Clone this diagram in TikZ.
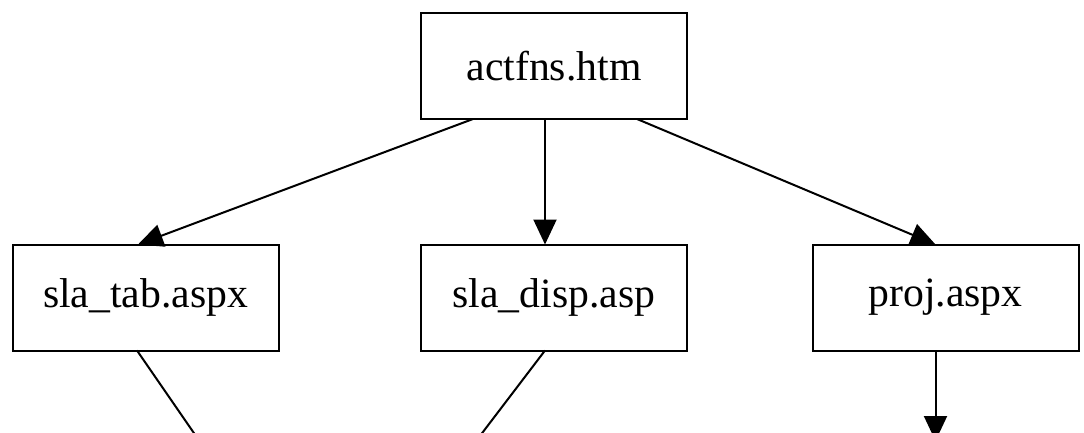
\documentclass[tikz,border=0pt]{standalone}
\usepackage{fontspec}
\setmainfont{Liberation Serif}
\usetikzlibrary{arrows.meta}
\begin{document}
\begin{tikzpicture}[x=1pt,y=1pt,
  pagebox/.style={draw=black, line width=2pt, rectangle, minimum width=266pt, minimum height=106pt, inner sep=0pt, outer sep=0pt, font=\fontsize{41.7pt}{48pt}\selectfont},
  edge/.style={draw=black, line width=2pt, -{Triangle[length=25pt,width=23pt]}},
  plainedge/.style={draw=black, line width=2pt}]
\useasboundingbox (0,0) rectangle (1084,432);
\clip (0,0) rectangle (1084,432);
\node[pagebox] (top) at (554,366) {actfns.htm};
\node[pagebox] (tab) at (145.5,134.5) {sla\_tab.aspx};
\node[pagebox] (disp) at (554,134.5) {sla\_disp.asp};
\node[pagebox] (proj) at (945.5,134.5) {proj.aspx};
\coordinate (tabout) at (207,-20);
\coordinate (dispout) at (467.7,-20);
\coordinate (projout) at (935.5,-9);
\draw[edge] ([xshift=-81pt]top.south) -- ([xshift=-7.5pt]tab.north);
\draw[edge] ([xshift=-9pt]top.south) -- ([xshift=-9pt]disp.north);
\draw[edge] ([xshift=83pt]top.south) -- ([xshift=-10pt]proj.north);
\draw[plainedge] ([xshift=-8.5pt]tab.south) -- (tabout);
\draw[plainedge] ([xshift=-9pt]disp.south) -- (dispout);
\draw[edge] ([xshift=-10pt]proj.south) -- (projout);
\end{tikzpicture}
\end{document}
